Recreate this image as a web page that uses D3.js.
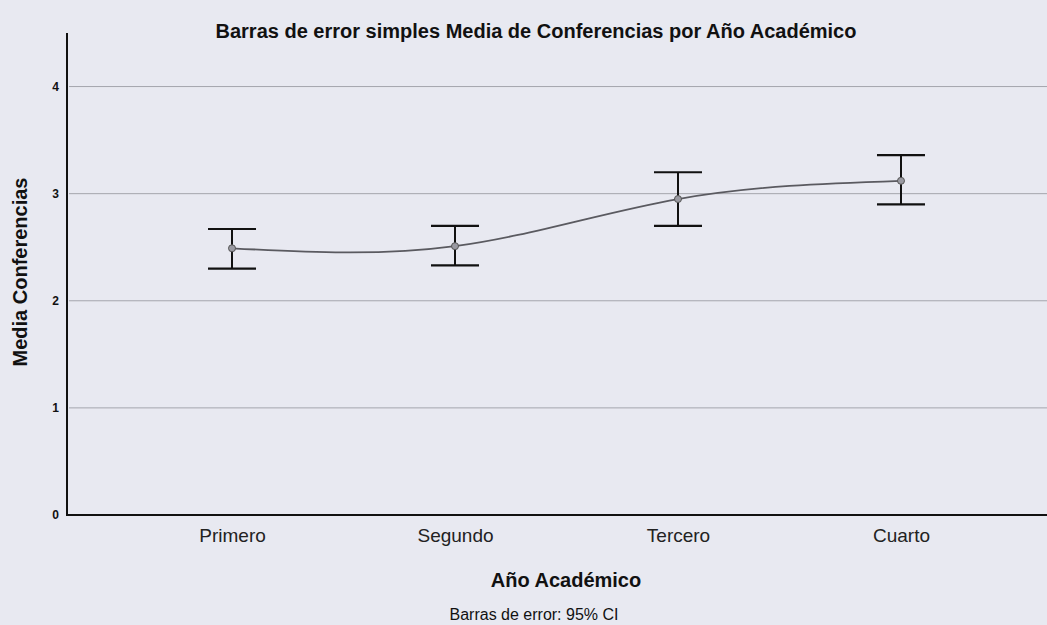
<!DOCTYPE html>
<html>
<head>
<meta charset="utf-8">
<script src="https://cdn.jsdelivr.net/npm/d3@7"></script>
<style>
  html, body { margin: 0; padding: 0; background: #e8e9f1; }
  svg { display: block; font-family: "Liberation Sans", Arial, sans-serif; }
</style>
</head>
<body>
<svg id="chart" width="1047" height="625"></svg>
<script>
// ---- data ----
const categories = ["Primero", "Segundo", "Tercero", "Cuarto"];
const means      = [2.49, 2.51, 2.95, 3.12];
const lowerCI    = [2.30, 2.33, 2.70, 2.90];
const upperCI    = [2.67, 2.70, 3.20, 3.36];
const yTicks     = [0, 1, 2, 3, 4];
const titleText  = "Barras de error simples Media de Conferencias por Año Académico";
const xTitle     = "Año Académico";
const yTitle     = "Media Conferencias";
const footnote   = "Barras de error: 95% CI";

const data = categories.map((c, i) => ({ cat: c, mean: means[i], lo: lowerCI[i], hi: upperCI[i] }));

const svg = d3.select("#chart");
svg.append("rect").attr("width", 1047).attr("height", 625).attr("fill", "#e8e9f1");

const axisX = 67, axisY = 515, axisTop = 33;
const x = d3.scalePoint().domain(categories).range([axisX, 1066]).padding(0.74);
const y = d3.scaleLinear().domain([0, 4.5]).range([axisY, axisTop]);

// gridlines
svg.append("g").selectAll("line").data(yTicks.filter(t => t > 0)).join("line")
  .attr("x1", axisX + 2).attr("x2", 1047)
  .attr("y1", d => y(d)).attr("y2", d => y(d))
  .attr("stroke", "#a4a5ad").attr("stroke-width", 1);

// y axis
const yAxis = d3.axisLeft(y).tickValues(yTicks).tickFormat(d3.format("d")).tickSize(0).tickPadding(8);
const gy = svg.append("g").attr("transform", `translate(${axisX},0)`).call(yAxis);
gy.select(".domain").remove();
gy.selectAll("text").attr("font-size", 12).attr("font-weight", "bold").attr("fill", "#111")
  .attr("font-family", "'Liberation Sans', Arial, sans-serif");
svg.append("line").attr("x1", axisX).attr("x2", axisX).attr("y1", axisTop).attr("y2", axisY + 1)
  .attr("stroke", "#111").attr("stroke-width", 2);

// x axis
const xAxis = d3.axisBottom(x).tickSize(0).tickPadding(14);
const gx = svg.append("g").attr("transform", `translate(0,${axisY})`).call(xAxis);
gx.select(".domain").remove();
gx.selectAll("text").attr("font-size", 19).attr("fill", "#222")
  .attr("font-family", "'Liberation Sans', Arial, sans-serif");
svg.append("line").attr("x1", axisX - 1).attr("x2", 1047).attr("y1", axisY).attr("y2", axisY)
  .attr("stroke", "#111").attr("stroke-width", 2);

// mean line
const line = d3.line().x(d => x(d.cat)).y(d => y(d.mean)).curve(d3.curveNatural);
svg.append("path").datum(data).attr("d", line)
  .attr("fill", "none").attr("stroke", "#5a5a60").attr("stroke-width", 1.8);

// error bars
const capHalf = 24;
const eb = svg.append("g").selectAll("g").data(data).join("g");
eb.append("line").attr("x1", d => x(d.cat)).attr("x2", d => x(d.cat))
  .attr("y1", d => y(d.hi)).attr("y2", d => y(d.lo)).attr("stroke", "#111").attr("stroke-width", 2);
eb.append("line").attr("x1", d => x(d.cat) - capHalf).attr("x2", d => x(d.cat) + capHalf)
  .attr("y1", d => y(d.hi)).attr("y2", d => y(d.hi)).attr("stroke", "#111").attr("stroke-width", 2.2);
eb.append("line").attr("x1", d => x(d.cat) - capHalf).attr("x2", d => x(d.cat) + capHalf)
  .attr("y1", d => y(d.lo)).attr("y2", d => y(d.lo)).attr("stroke", "#111").attr("stroke-width", 2.2);
eb.append("circle").attr("cx", d => x(d.cat)).attr("cy", d => y(d.mean)).attr("r", 3.5)
  .attr("fill", "#9a9aa2").attr("stroke", "#555").attr("stroke-width", 1);

// titles
svg.append("text").attr("x", 536).attr("y", 38).attr("text-anchor", "middle")
  .attr("font-size", 20).attr("font-weight", "bold").attr("fill", "#111").text(titleText);
svg.append("text").attr("x", 566).attr("y", 587).attr("text-anchor", "middle")
  .attr("font-size", 20).attr("font-weight", "bold").attr("fill", "#111").text(xTitle);
svg.append("text").attr("transform", "translate(27,272) rotate(-90)").attr("text-anchor", "middle")
  .attr("font-size", 20).attr("font-weight", "bold").attr("fill", "#111").text(yTitle);
svg.append("text").attr("x", 534).attr("y", 620).attr("text-anchor", "middle")
  .attr("font-size", 16).attr("fill", "#111").text(footnote);
</script>
</body>
</html>
